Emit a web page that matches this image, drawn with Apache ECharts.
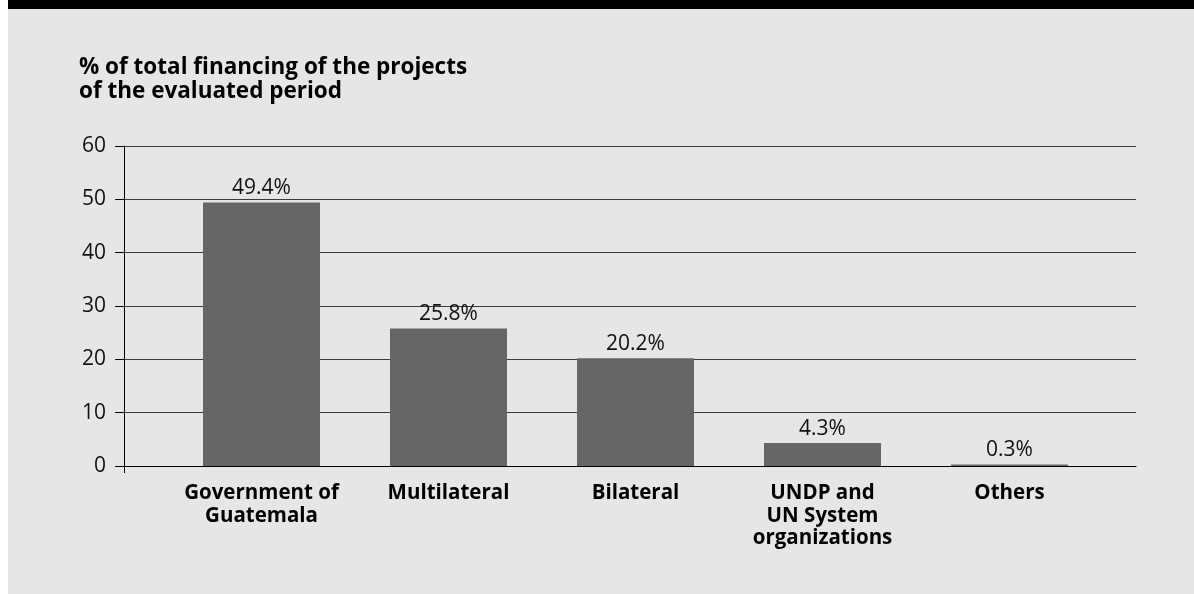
<!DOCTYPE html>
<html>
<head>
<meta charset="utf-8">
<script src="https://cdn.jsdelivr.net/npm/echarts@6/dist/echarts.min.js"></script>
<style>
html,body{margin:0;padding:0;background:#ffffff;}
#c{width:1194px;height:594px;}
</style>
</head>
<body>
<div id="c"></div>
<script>
var categories = ['Government of\nGuatemala', 'Multilateral', 'Bilateral', 'UNDP and\nUN System\norganizations', 'Others'];
var shares = [49.4, 25.8, 20.2, 4.3, 0.3];
var yTicks = [0, 10, 20, 30, 40, 50, 60];
var titleText = '% of total financing of the projects\nof the evaluated period';

var FONT = '"Open Sans", "DejaVu Sans", sans-serif';
var chart = echarts.init(document.getElementById('c'), null, {renderer: 'canvas'});
var option = {
  backgroundColor: '#e6e6e6',
  animation: false,
  graphic: [
    {type: 'rect', left: 0, top: 0, shape: {width: 8, height: 594}, style: {fill: '#ffffff'}, z: 100},
    {type: 'rect', left: 8, top: 0, shape: {width: 1186, height: 9}, style: {fill: '#000000'}, z: 100}
  ],
  title: {
    text: titleText,
    left: 79,
    top: 55,
    padding: 0,
    textStyle: {fontFamily: FONT, fontSize: 22.5, fontWeight: 'bold', color: '#000', lineHeight: 24.5}
  },
  grid: [
    {left: 124, right: 58, top: 146, bottom: 128},
    {left: 168, right: 91, top: 146, bottom: 128}
  ],
  xAxis: [
    {
      gridIndex: 0, type: 'category', data: ['', ''], boundaryGap: false,
      axisLine: {show: true, lineStyle: {color: '#000', width: 1}},
      axisTick: {show: true, length: 7, interval: function (i) { return i === 0; }, lineStyle: {color: '#000'}},
      axisLabel: {show: false}, splitLine: {show: false}, z: 5
    },
    {
      gridIndex: 1, type: 'category', data: categories,
      axisLine: {show: false}, axisTick: {show: false},
      axisLabel: {
        show: true, margin: 16, interval: 0,
        fontFamily: FONT, fontSize: 20.5, fontWeight: 'bold', color: '#000', lineHeight: 22.5
      }
    }
  ],
  yAxis: [
    {
      gridIndex: 0, type: 'value', min: yTicks[0], max: yTicks[yTicks.length - 1], interval: 10,
      axisLine: {show: true, lineStyle: {color: '#000', width: 1}},
      axisTick: {show: true, length: 9, lineStyle: {color: '#000'}},
      axisLabel: {margin: 18, fontFamily: FONT, fontSize: 21, color: '#111'},
      splitLine: {show: true, lineStyle: {color: '#3a3a3a', width: 1}}
    },
    {
      gridIndex: 1, type: 'value', min: yTicks[0], max: yTicks[yTicks.length - 1], interval: 10,
      show: false
    }
  ],
  series: [
    {
      type: 'bar', xAxisIndex: 1, yAxisIndex: 1, data: shares, barWidth: 117,
      itemStyle: {color: '#666666'},
      z: 3,
      label: {
        show: true, position: 'top', distance: 4,
        formatter: function (p) { return p.value.toFixed(1) + '%'; },
        fontFamily: FONT, fontSize: 21, color: '#111'
      }
    }
  ]
};
chart.setOption(option);
</script>
</body>
</html>
